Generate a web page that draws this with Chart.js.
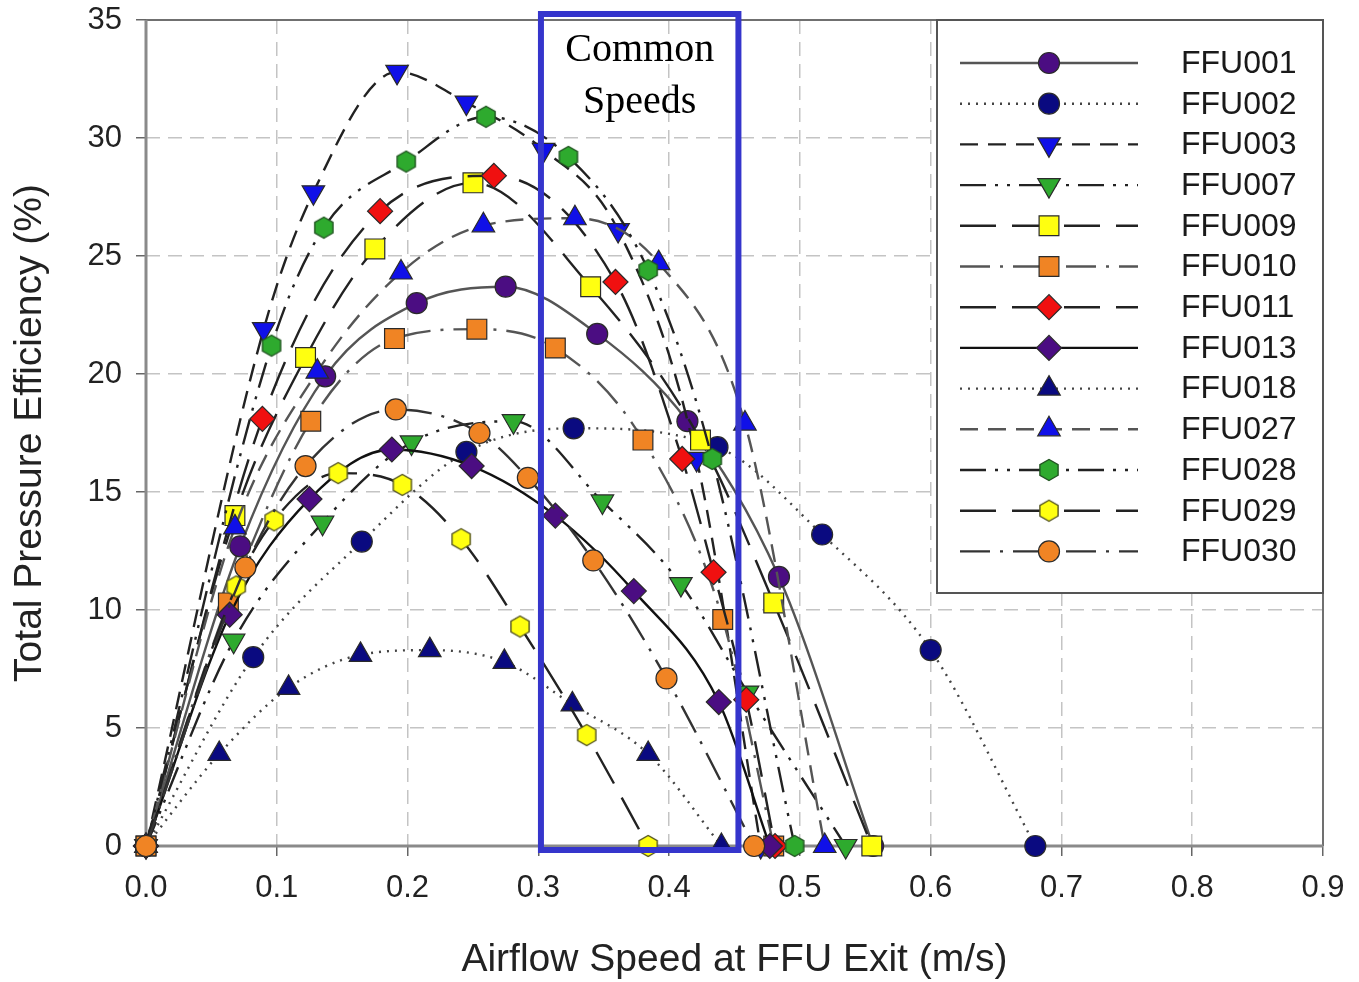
<!doctype html>
<html lang="en">
  <head>
    <meta charset="utf-8">
    <title>Total Pressure Efficiency vs Airflow Speed</title>
    <style>
      * {
        margin: 0;
        padding: 0;
      }
      body {
        background: #fff;
      }
      .chartBox {
        width: 1359px;
        height: 982px;
      }
    </style>
  </head>
  <body>
    <div class="chartBox">
      <canvas id="myChart"></canvas>
    </div>

    <script src="https://cdn.jsdelivr.net/npm/chart.js"></script>
    <script>
    // measured points [speed m/s, efficiency %] for each fan filter unit
    const ffu001 = [[0, 0], [0.072, 12.7], [0.137, 19.9], [0.207, 23.0], [0.275, 23.7], [0.345, 21.7], [0.414, 18.0], [0.484, 11.4], [0.556, 0]];
    const ffu002 = [[0, 0], [0.082, 8.0], [0.165, 12.9], [0.245, 16.7], [0.327, 17.7], [0.437, 16.9], [0.517, 13.2], [0.600, 8.3], [0.680, 0]];
    const ffu003 = [[0, 0], [0.090, 21.9], [0.128, 27.7], [0.192, 32.8], [0.245, 31.5], [0.304, 29.5], [0.361, 26.1], [0.421, 16.4], [0.470, 0]];
    const ffu007 = [[0, 0], [0.067, 8.7], [0.135, 13.7], [0.203, 17.1], [0.281, 18.0], [0.349, 14.6], [0.409, 11.1], [0.460, 6.5], [0.535, 0]];
    const ffu009 = [[0, 0], [0.068, 14.0], [0.122, 20.7], [0.175, 25.3], [0.250, 28.1], [0.340, 23.7], [0.424, 17.2], [0.480, 10.3], [0.555, 0]];
    const ffu010 = [[0, 0], [0.063, 10.3], [0.126, 18.0], [0.190, 21.5], [0.253, 21.9], [0.313, 21.1], [0.380, 17.2], [0.441, 9.6], [0.480, 0]];
    const ffu011 = [[0, 0], [0.089, 18.1], [0.179, 26.9], [0.266, 28.4], [0.359, 23.9], [0.410, 16.4], [0.434, 11.6], [0.459, 6.2], [0.481, 0]];
    const ffu013 = [[0, 0], [0.064, 9.8], [0.125, 14.7], [0.188, 16.8], [0.249, 16.1], [0.313, 14.0], [0.373, 10.8], [0.438, 6.1], [0.477, 0]];
    const ffu018 = [[0, 0], [0.056, 3.9], [0.109, 6.7], [0.164, 8.1], [0.217, 8.3], [0.274, 7.8], [0.326, 6.0], [0.384, 3.9], [0.440, 0]];
    const ffu027 = [[0, 0], [0.068, 13.5], [0.131, 20.1], [0.195, 24.3], [0.258, 26.3], [0.328, 26.6], [0.392, 24.7], [0.458, 17.9], [0.519, 0]];
    const ffu028 = [[0, 0], [0.096, 21.2], [0.136, 26.2], [0.199, 29.0], [0.260, 30.9], [0.323, 29.2], [0.384, 24.4], [0.433, 16.4], [0.496, 0]];
    const ffu029 = [[0, 0], [0.069, 11.0], [0.098, 13.8], [0.147, 15.8], [0.196, 15.3], [0.241, 13.0], [0.286, 9.3], [0.337, 4.7], [0.384, 0]];
    const ffu030 = [[0, 0], [0.076, 11.8], [0.122, 16.1], [0.191, 18.5], [0.255, 17.5], [0.292, 15.6], [0.342, 12.1], [0.398, 7.1], [0.465, 0]];

    const unitNames = ['FFU001', 'FFU002', 'FFU003', 'FFU007', 'FFU009', 'FFU010', 'FFU011', 'FFU013', 'FFU018', 'FFU027', 'FFU028', 'FFU029', 'FFU030'];
    const unitPoints = [ffu001, ffu002, ffu003, ffu007, ffu009, ffu010, ffu011, ffu013, ffu018, ffu027, ffu028, ffu029, ffu030];

    const xTicks = [0, 0.1, 0.2, 0.3, 0.4, 0.5, 0.6, 0.7, 0.8, 0.9];
    const yTicks = [0, 5, 10, 15, 20, 25, 30, 35];

    // band of speeds shared by all units
    const commonSpeeds = [0.302, 0.453];
    const commonLabel = ['Common', 'Speeds'];

    // hexagon marker as a small canvas
    function hexagon(fill, stroke) {
      const c = document.createElement('canvas');
      c.width = 24;
      c.height = 24;
      const g = c.getContext('2d');
      g.beginPath();
      for (let i = 0; i < 6; i++) {
        const a = Math.PI / 6 + i * Math.PI / 3;
        const px = 12 + 10.5 * Math.cos(a);
        const py = 12 + 10.5 * Math.sin(a);
        if (i === 0) g.moveTo(px, py); else g.lineTo(px, py);
      }
      g.closePath();
      g.fillStyle = fill;
      g.fill();
      g.lineWidth = 1.4;
      g.strokeStyle = stroke;
      g.stroke();
      return c;
    }

    const DOT = [2, 6];
    const DASH = [18, 10];
    const DASH_DOT_DOT = [26, 9, 3, 9, 3, 9];
    const LONG_DASH = [36, 16];
    const DASH_DOT = [30, 10, 3, 10];

    const styles = [
      { fill: '#4b0d82', line: '#555', dash: [], point: 'circle', r: 10.5, rot: 0 },
      { fill: '#0a0a80', line: '#444', dash: DOT, point: 'circle', r: 10.5, rot: 0 },
      { fill: '#1010e8', line: '#222', dash: DASH, point: 'triangle', r: 13, rot: 180 },
      { fill: '#2eaa2e', line: '#222', dash: DASH_DOT_DOT, point: 'triangle', r: 13, rot: 180 },
      { fill: '#ffff10', line: '#222', dash: LONG_DASH, point: 'rect', r: 14, rot: 0 },
      { fill: '#f08424', line: '#555', dash: DASH_DOT, point: 'rect', r: 14, rot: 0 },
      { fill: '#f01010', line: '#222', dash: LONG_DASH, point: 'rectRot', r: 12.5, rot: 0 },
      { fill: '#4b0d82', line: '#111', dash: [], point: 'rectRot', r: 12.5, rot: 0 },
      { fill: '#0a0a80', line: '#444', dash: DOT, point: 'triangle', r: 13, rot: 0 },
      { fill: '#1010e8', line: '#555', dash: DASH, point: 'triangle', r: 13, rot: 0 },
      { fill: '#2eaa2e', line: '#222', dash: DASH_DOT_DOT, point: hexagon('#2eaa2e', '#225522'), r: 11, rot: 0 },
      { fill: '#ffff10', line: '#222', dash: LONG_DASH, point: hexagon('#ffff10', '#555522'), r: 11, rot: 0 },
      { fill: '#f08424', line: '#333', dash: DASH_DOT, point: 'circle', r: 10.5, rot: 0 }
    ];

    // later units are painted over earlier ones
    const datasets = unitNames.map((name, i) => {
      const s = styles[i];
      return {
        label: name,
        data: unitPoints[i].map(p => ({ x: p[0], y: p[1] })),
        order: unitNames.length - i,
        clip: false,
        borderColor: s.line,
        borderWidth: 2.4,
        borderDash: s.dash,
        cubicInterpolationMode: 'monotone',
        pointStyle: s.point,
        pointRadius: s.r,
        pointRotation: s.rot,
        pointBackgroundColor: s.fill,
        pointBorderColor: '#2a2a2a',
        pointBorderWidth: 1.2,
        fill: false
      };
    });

    // plot frame, drawn under the markers
    const plotFrame = {
      id: 'plotFrame',
      beforeDatasetsDraw(chart) {
        const { ctx, chartArea: { top, right, bottom, left } } = chart;
        ctx.save();
        ctx.strokeStyle = '#707070';
        ctx.lineWidth = 2;
        ctx.beginPath();
        ctx.moveTo(left, top);
        ctx.lineTo(right, top);
        ctx.lineTo(right, bottom);
        ctx.stroke();
        ctx.strokeStyle = '#8a8a8a';
        ctx.lineWidth = 3;
        ctx.beginPath();
        ctx.moveTo(left, top);
        ctx.lineTo(left, bottom);
        ctx.lineTo(right, bottom);
        ctx.stroke();
        ctx.restore();
      }
    };

    // blue box marking the common speed band
    const commonBand = {
      id: 'commonBand',
      afterDatasetsDraw(chart) {
        const { ctx, chartArea: { top, bottom }, scales: { x } } = chart;
        const x0 = x.getPixelForValue(commonSpeeds[0]);
        const x1 = x.getPixelForValue(commonSpeeds[1]);
        ctx.save();
        ctx.strokeStyle = '#3535cc';
        ctx.lineWidth = 6;
        ctx.strokeRect(x0, top - 6, x1 - x0, bottom - top + 10);
        ctx.fillStyle = '#000';
        ctx.font = '40px "Liberation Serif", "Times New Roman", serif';
        ctx.textAlign = 'center';
        ctx.textBaseline = 'middle';
        ctx.fillText(commonLabel[0], (x0 + x1) / 2, top + 30);
        ctx.fillText(commonLabel[1], (x0 + x1) / 2, top + 82);
        ctx.restore();
      }
    };

    // legend with a line sample and marker per unit
    const unitLegend = {
      id: 'unitLegend',
      afterDraw(chart) {
        const { ctx, chartArea: { top, right } } = chart;
        const w = 386, h = 573;
        const left = right - w;
        ctx.save();
        ctx.fillStyle = '#fff';
        ctx.fillRect(left, top, w, h);
        ctx.strokeStyle = '#555';
        ctx.lineWidth = 2;
        ctx.strokeRect(left, top, w, h);
        chart.data.datasets.forEach((ds, i) => {
          const y = top + 43 + i * 40.7;
          ctx.strokeStyle = ds.borderColor;
          ctx.lineWidth = ds.borderWidth;
          ctx.setLineDash(ds.borderDash);
          ctx.beginPath();
          ctx.moveTo(left + 23, y);
          ctx.lineTo(left + 201, y);
          ctx.stroke();
          ctx.setLineDash([]);
          ctx.fillStyle = ds.pointBackgroundColor;
          ctx.strokeStyle = ds.pointBorderColor;
          ctx.lineWidth = ds.pointBorderWidth;
          Chart.helpers.drawPoint(ctx, {
            pointStyle: ds.pointStyle,
            radius: ds.pointRadius,
            rotation: ds.pointRotation,
            borderWidth: ds.pointBorderWidth
          }, left + 112, y);
          ctx.fillStyle = '#1a1a1a';
          ctx.font = '32px "Liberation Sans", Arial, sans-serif';
          ctx.textAlign = 'left';
          ctx.textBaseline = 'middle';
          ctx.fillText(ds.label, left + 244, y + 1);
        });
        ctx.restore();
      }
    };

    const gridStyle = {
      color: '#c4c4c4',
      lineWidth: 1.5,
      tickColor: '#666',
      tickLength: 10,
      tickWidth: 1.5
    };

    const config = {
      type: 'line',
      data: { datasets },
      options: {
        responsive: true,
        maintainAspectRatio: false,
        animation: false,
        layout: { padding: { top: 20, right: 36, left: 0, bottom: 0 } },
        plugins: {
          legend: { display: false },
          tooltip: { enabled: false }
        },
        scales: {
          x: {
            type: 'linear',
            min: 0,
            max: 0.9,
            afterBuildTicks: s => { s.ticks = xTicks.map(v => ({ value: v })); },
            afterFit: s => {
              s.height = 136;
              s.paddingLeft = 0;
              s.paddingRight = 0;
            },
            grid: gridStyle,
            border: { display: false, dash: [14, 8] },
            ticks: {
              padding: 14,
              color: '#222',
              font: { family: '"Liberation Sans", Arial, sans-serif', size: 31 },
              callback: v => v.toFixed(1),
              maxRotation: 0
            },
            title: {
              display: true,
              text: 'Airflow Speed at FFU Exit (m/s)',
              color: '#222',
              padding: { top: 0, bottom: -2 },
              font: { family: '"Liberation Sans", Arial, sans-serif', size: 39 }
            }
          },
          y: {
            type: 'linear',
            min: 0,
            max: 35,
            afterBuildTicks: s => { s.ticks = yTicks.map(v => ({ value: v })); },
            afterFit: s => {
              s.width = 146;
              s.paddingTop = 0;
              s.paddingBottom = 0;
            },
            grid: gridStyle,
            border: { display: false, dash: [14, 8] },
            ticks: {
              padding: 14,
              color: '#222',
              font: { family: '"Liberation Sans", Arial, sans-serif', size: 31 }
            },
            title: {
              display: true,
              text: 'Total Pressure Efficiency (%)',
              color: '#222',
              padding: { top: 7, bottom: 0 },
              font: { family: '"Liberation Sans", Arial, sans-serif', size: 39 }
            }
          }
        }
      },
      plugins: [plotFrame, commonBand, unitLegend]
    };

    const myChart = new Chart(document.getElementById('myChart'), config);
    </script>
  </body>
</html>
